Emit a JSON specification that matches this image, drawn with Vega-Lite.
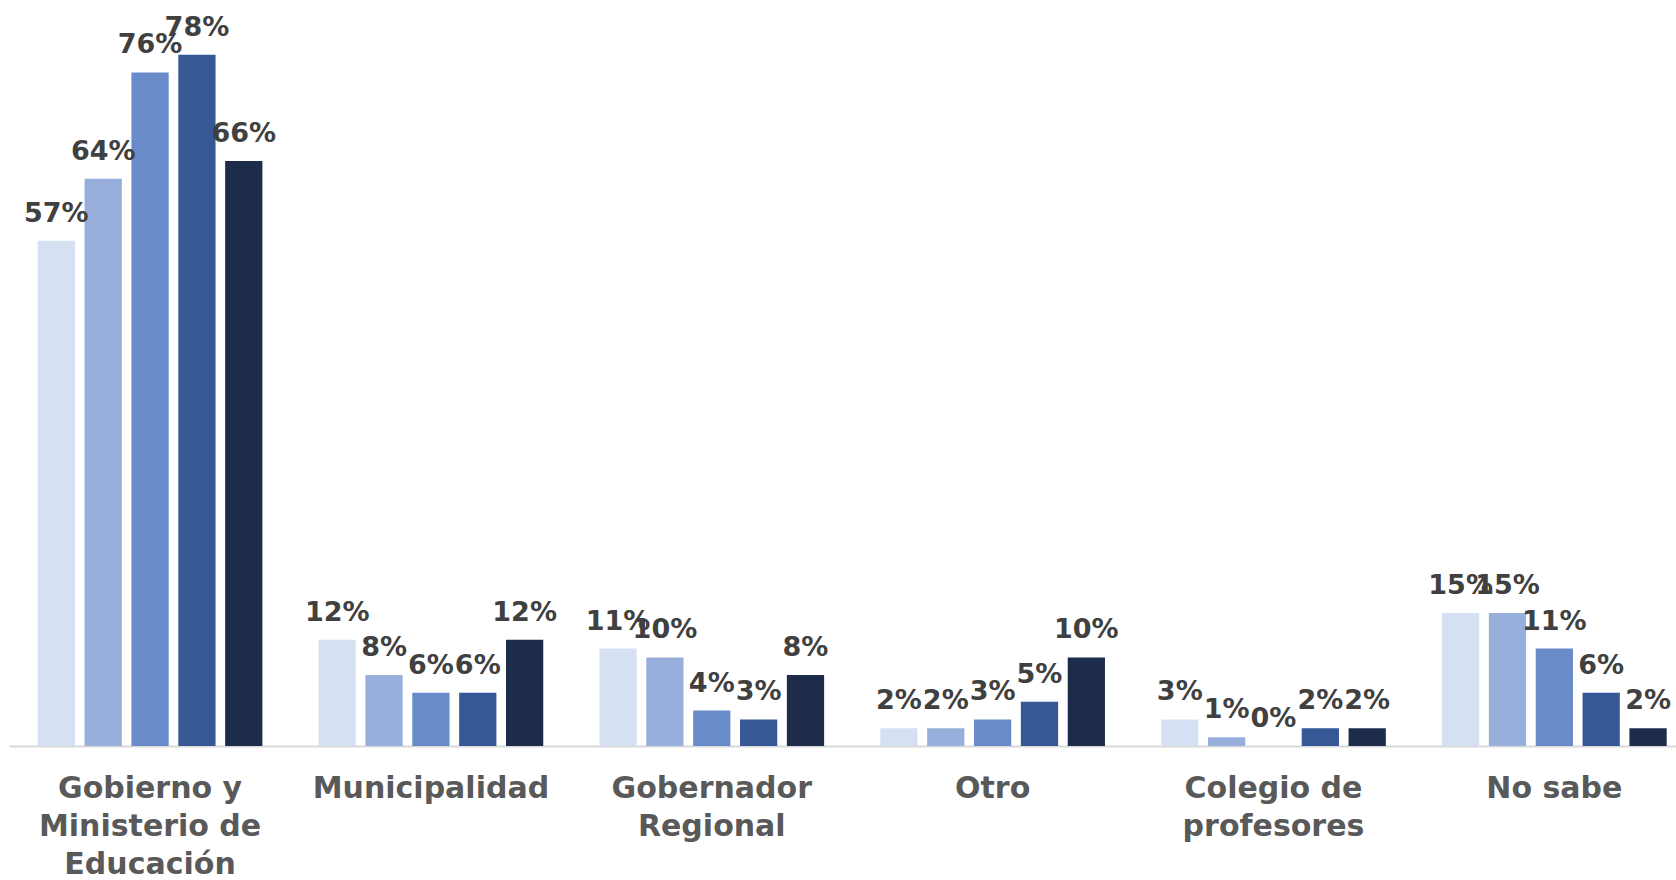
{
  "$schema": "https://vega.github.io/schema/vega-lite/v6.json",
  "autosize": {"type": "none"},
  "padding": {"left": 9, "top": 37, "right": 0, "bottom": 134},
  "width": 1667,
  "height": 709,
  "background": "white",
  "config": {"view": {"stroke": null}},
  "data": {
    "values": [
      {"categoria": "Gobierno y Ministerio de Educación", "serie": "1", "valor": 0.57},
      {"categoria": "Gobierno y Ministerio de Educación", "serie": "2", "valor": 0.64},
      {"categoria": "Gobierno y Ministerio de Educación", "serie": "3", "valor": 0.76},
      {"categoria": "Gobierno y Ministerio de Educación", "serie": "4", "valor": 0.78},
      {"categoria": "Gobierno y Ministerio de Educación", "serie": "5", "valor": 0.66},
      {"categoria": "Municipalidad", "serie": "1", "valor": 0.12},
      {"categoria": "Municipalidad", "serie": "2", "valor": 0.08},
      {"categoria": "Municipalidad", "serie": "3", "valor": 0.06},
      {"categoria": "Municipalidad", "serie": "4", "valor": 0.06},
      {"categoria": "Municipalidad", "serie": "5", "valor": 0.12},
      {"categoria": "Gobernador Regional", "serie": "1", "valor": 0.11},
      {"categoria": "Gobernador Regional", "serie": "2", "valor": 0.10},
      {"categoria": "Gobernador Regional", "serie": "3", "valor": 0.04},
      {"categoria": "Gobernador Regional", "serie": "4", "valor": 0.03},
      {"categoria": "Gobernador Regional", "serie": "5", "valor": 0.08},
      {"categoria": "Otro", "serie": "1", "valor": 0.02},
      {"categoria": "Otro", "serie": "2", "valor": 0.02},
      {"categoria": "Otro", "serie": "3", "valor": 0.03},
      {"categoria": "Otro", "serie": "4", "valor": 0.05},
      {"categoria": "Otro", "serie": "5", "valor": 0.10},
      {"categoria": "Colegio de profesores", "serie": "1", "valor": 0.03},
      {"categoria": "Colegio de profesores", "serie": "2", "valor": 0.01},
      {"categoria": "Colegio de profesores", "serie": "3", "valor": 0.0},
      {"categoria": "Colegio de profesores", "serie": "4", "valor": 0.02},
      {"categoria": "Colegio de profesores", "serie": "5", "valor": 0.02},
      {"categoria": "No sabe", "serie": "1", "valor": 0.15},
      {"categoria": "No sabe", "serie": "2", "valor": 0.15},
      {"categoria": "No sabe", "serie": "3", "valor": 0.11},
      {"categoria": "No sabe", "serie": "4", "valor": 0.06},
      {"categoria": "No sabe", "serie": "5", "valor": 0.02}
    ]
  },
  "encoding": {
    "x": {
      "field": "categoria",
      "type": "nominal",
      "sort": null,
      "title": null,
      "scale": {"paddingInner": 0.2, "paddingOuter": 0.0677, "align": 0.755},
      "axis": {
        "domainColor": "#D9D9D9",
        "domainWidth": 2,
        "ticks": false,
        "tickSize": 0,
        "labelAngle": 0,
        "labelPadding": 51,
        "labelBaseline": "alphabetic",
        "labelFont": "DejaVu Sans",
        "labelFontWeight": "bold",
        "labelFontSize": 30,
        "labelLineHeight": 38,
        "labelColor": "#595959",
        "labelLimit": 0,
        "labelOverlap": false,
        "labelExpr": "datum.value == 'Gobierno y Ministerio de Educación' ? ['Gobierno y', 'Ministerio de', 'Educación'] : datum.value == 'Gobernador Regional' ? ['Gobernador', 'Regional'] : datum.value == 'Colegio de profesores' ? ['Colegio de', 'profesores'] : datum.value"
      }
    },
    "xOffset": {
      "field": "serie",
      "type": "nominal",
      "scale": {"paddingInner": 0.205, "paddingOuter": 0}
    },
    "y": {
      "field": "valor",
      "type": "quantitative",
      "scale": {"domain": [0, 0.8]},
      "axis": null
    }
  },
  "layer": [
    {
      "mark": {"type": "bar"},
      "encoding": {
        "color": {
          "field": "serie",
          "type": "nominal",
          "legend": null,
          "scale": {
            "domain": ["1", "2", "3", "4", "5"],
            "range": ["#D5E1F3", "#97AFDA", "#698BC9", "#365996", "#1D2C4A"]
          }
        }
      }
    },
    {
      "mark": {
        "type": "text",
        "baseline": "alphabetic",
        "align": "center",
        "dy": -19,
        "font": "DejaVu Sans",
        "fontWeight": "bold",
        "fontSize": 27,
        "color": "#404040"
      },
      "encoding": {
        "text": {"field": "valor", "type": "quantitative", "format": ".0%"}
      }
    }
  ]
}
